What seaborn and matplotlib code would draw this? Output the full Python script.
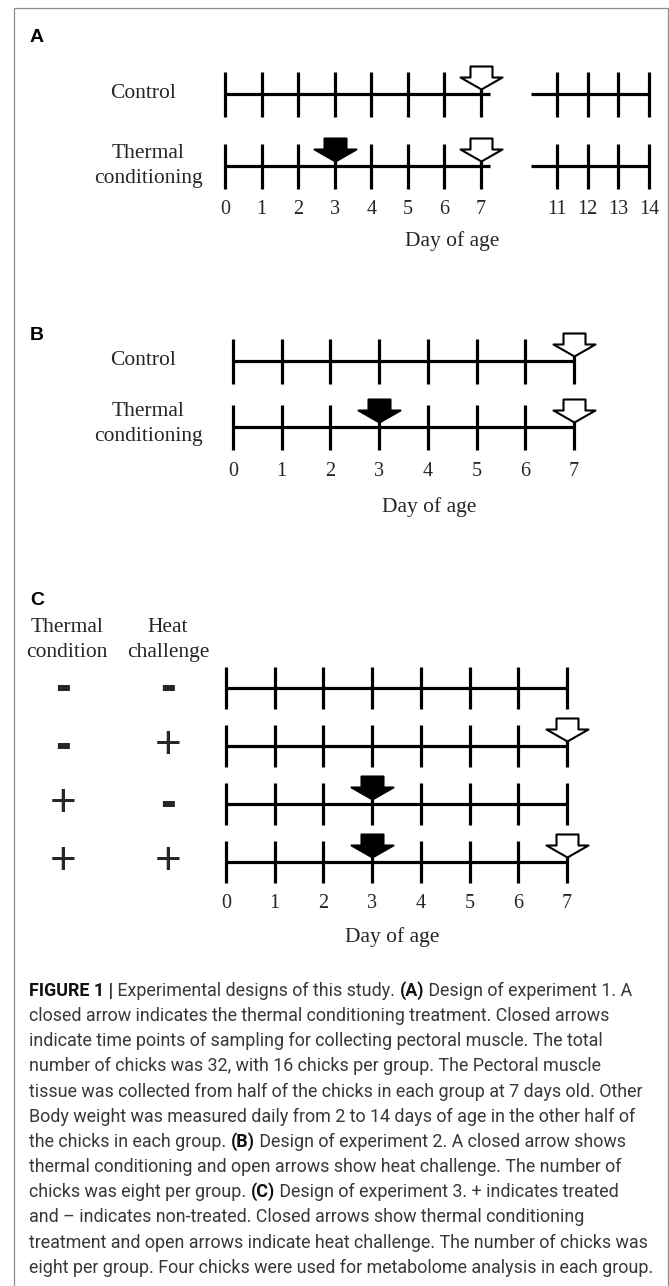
import matplotlib
matplotlib.use("Agg")
import matplotlib.pyplot as plt
import matplotlib.transforms as mtransforms
from matplotlib.path import Path
from matplotlib.markers import MarkerStyle
from matplotlib.patches import Rectangle
from matplotlib.font_manager import FontProperties
import seaborn as sns

W, H = 669, 1286
PT = 0.72  # points per pixel at dpi 100

# ---- data ----
days_a_first = [0, 1, 2, 3, 4, 5, 6, 7]
days_a_second = [11, 12, 13, 14]
days_b = [0, 1, 2, 3, 4, 5, 6, 7]
days_c = [0, 1, 2, 3, 4, 5, 6, 7]

groups_ab = ["Control", "Thermal\nconditioning"]
conditioned_ab = [False, True]   # closed arrow = thermal conditioning
sampled_ab = [True, True]        # open arrow = sampling / heat challenge

thermal_c = ["-", "-", "+", "+"]
heat_c = ["-", "+", "-", "+"]
headers_c = ["Thermal\ncondition", "Heat\nchallenge"]

conditioning_day = 3
open_day = 7
axis_title = "Day of age"

caption_lines = [
    "**FIGURE 1 |** Experimental designs of this study. **(A)** Design of experiment 1. A",
    "closed arrow indicates the thermal conditioning treatment. Closed arrows",
    "indicate time points of sampling for collecting pectoral muscle. The total",
    "number of chicks was 32, with 16 chicks per group. The Pectoral muscle",
    "tissue was collected from half of the chicks in each group at 7 days old. Other",
    "Body weight was measured daily from 2 to 14 days of age in the other half of",
    "the chicks in each group. **(B)** Design of experiment 2. A closed arrow shows",
    "thermal conditioning and open arrows show heat challenge. The number of",
    "chicks was eight per group. **(C)** Design of experiment 3. + indicates treated",
    "and \u2013 indicates non-treated. Closed arrows show thermal conditioning",
    "treatment and open arrows indicate heat challenge. The number of chicks was",
    "eight per group. Four chicks were used for metabolome analysis in each group.",
]

sns.set_theme(style="white")
plt.rcParams["font.family"] = ["Liberation Serif", "DejaVu Serif"]

fig = plt.figure(figsize=(W / 100, H / 100), dpi=100)
fig.patch.set_facecolor("white")

# frame round the whole figure
fig.patches.append(Rectangle((14 / W, -0.01), (668 - 14) / W, 1.01 - 8 / H,
                             transform=fig.transFigure, fill=False,
                             edgecolor="#8c8c8c", lw=0.9))

LW = 2.3
SERIF = 15.5
ARROW = MarkerStyle(Path([(0, 5), (21, 17), (11, 17), (11, 28), (-11, 28),
                          (-11, 17), (-21, 17), (0, 5)], closed=True),
                    joinstyle="miter")
ARROW_MS = 2 * 28 * PT


def panel_axes(ref_day, ref_px, day_px, row0_px, row_px):
    # full-figure transparent axes; x = day, y = row index
    ax = fig.add_axes([0, 0, 1, 1])
    ax.set_xlim(ref_day - ref_px / day_px, ref_day + (W - ref_px) / day_px)
    ax.set_ylim((H - row0_px) / row_px, -row0_px / row_px)
    ax.set_axis_off()
    ax.patch.set_alpha(0)
    return ax


def timeline(ax, days, row, start, end, tick_px):
    ax.hlines(row, start, end, color="black", lw=LW, zorder=2)
    ax.plot(days, [row] * len(days), ls="none", marker="|", ms=tick_px * PT,
            mew=LW, color="black", zorder=2)


def arrow(ax, day, row, filled):
    ax.plot([day], [row], ls="none", marker=ARROW, ms=ARROW_MS,
            mfc="black" if filled else "white", mec="black", mew=1.5, zorder=4)


def day_labels(ax, days, row, off_px):
    for d in days:
        ax.annotate(str(d), (d, row), xytext=(0, -off_px * PT),
                    textcoords="offset points", ha="center", va="center",
                    fontsize=14.5)


def left_text(ax, x_px, row, s, **kw):
    trans = mtransforms.blended_transform_factory(fig.transFigure, ax.transData)
    ax.text(x_px / W, row, s, transform=trans, ha="center", va="center", **kw)


def fig_text(x_px, y_px, s, **kw):
    fig.text(x_px / W, 1 - y_px / H, s, **kw)


# ---- panel A ----
axA = panel_axes(0, 225, 36.57, 94, 72)
axA2 = panel_axes(11, 557, 30.67, 94, 72)
label_x_ab = [143, 148]
for r, (g, cond, samp) in enumerate(zip(groups_ab, conditioned_ab, sampled_ab)):
    timeline(axA, days_a_first, r, days_a_first[0], days_a_first[-1] + 0.25, 45)
    timeline(axA2, days_a_second, r, days_a_second[0] - 0.85, days_a_second[-1], 45)
    if cond:
        arrow(axA, conditioning_day, r, True)
    if samp:
        arrow(axA, open_day, r, False)
    left_text(axA, label_x_ab[r], r, g, fontsize=SERIF, linespacing=1.45)
day_labels(axA, days_a_first, len(groups_ab) - 1, 44)
day_labels(axA2, days_a_second, len(groups_ab) - 1, 44)
fig_text(452, 241, axis_title, ha="center", va="center", fontsize=SERIF)

# ---- panel B ----
axB = panel_axes(0, 233, 48.71, 361, 66)
for r, (g, cond, samp) in enumerate(zip(groups_ab, conditioned_ab, sampled_ab)):
    timeline(axB, days_b, r, days_b[0], days_b[-1], 45)
    if cond:
        arrow(axB, conditioning_day, r, True)
    if samp:
        arrow(axB, open_day, r, False)
    left_text(axB, label_x_ab[r], r - 0.05 * r, g, fontsize=SERIF, linespacing=1.45)
day_labels(axB, days_b, len(groups_ab) - 1, 45)
fig_text(429, 507, axis_title, ha="center", va="center", fontsize=SERIF)

# ---- panel C ----
axC = panel_axes(0, 226, 48.71, 688, 58)
fig_text(67, 640, headers_c[0], ha="center", va="center", fontsize=SERIF, linespacing=1.4)
fig_text(168, 640, headers_c[1], ha="center", va="center", fontsize=SERIF, linespacing=1.4)
for r, (tc, hc) in enumerate(zip(thermal_c, heat_c)):
    timeline(axC, days_c, r, days_c[0], days_c[-1], 43)
    if tc == "+":
        arrow(axC, conditioning_day, r, True)
    if hc == "+":
        arrow(axC, open_day, r, False)
    for x_px, s in [(63, tc), (168, hc)]:
        if s == "+":
            left_text(axC, x_px, r, s, fontsize=33, family="Liberation Sans")
        else:
            left_text(axC, x_px, r, s, fontsize=34, family="Liberation Sans",
                      fontweight="bold")
day_labels(axC, days_c, len(thermal_c) - 1, 41)
fig_text(392, 937, axis_title, ha="center", va="center", fontsize=SERIF)

# panel letters
for letter, y in [("A", 42), ("B", 340), ("C", 605)]:
    fig_text(30, y, letter, ha="left", va="baseline", fontsize=14,
             family="Liberation Sans", fontweight="bold", color="black")

# ---- caption ----
renderer = fig.canvas.get_renderer()
reg = FontProperties(family="Roboto", weight="normal", size=11)
bold = FontProperties(family="Roboto", weight="bold", size=11)


def seg_width(s, fp):
    w1, _, _ = renderer.get_text_width_height_descent("x" + s + "x", fp, ismath=False)
    w0, _, _ = renderer.get_text_width_height_descent("xx", fp, ismath=False)
    return w1 - w0


def line_width(line):
    parts = line.split("**")
    return sum(seg_width(p, bold if i % 2 else reg) for i, p in enumerate(parts))


fs = 11 * 624 / line_width(caption_lines[-1])
reg.set_size(fs)
bold.set_size(fs)
for i, line in enumerate(caption_lines):
    x = 29
    y = 996 + 25.15 * i
    for j, part in enumerate(line.split("**")):
        fp = bold if j % 2 else reg
        fig_text(x, y, part, ha="left", va="baseline", fontproperties=fp,
                 color="#111111" if j % 2 else "#383838")
        x += seg_width(part, fp)

fig.savefig("out.png", dpi=100)
